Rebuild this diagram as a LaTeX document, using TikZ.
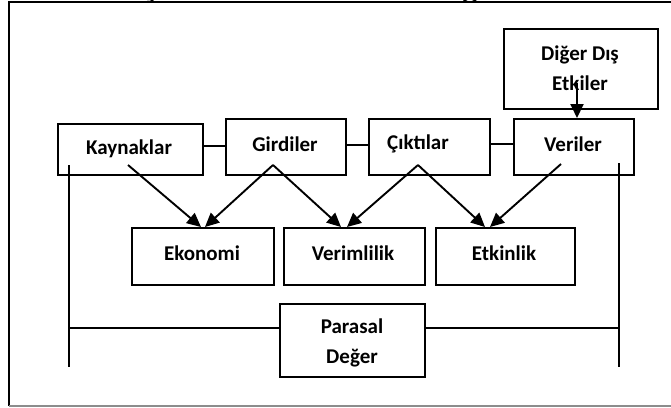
\documentclass[tikz,border=0pt]{standalone}
\usepackage{fontspec}
\setmainfont{Carlito}
\newfontfamily\titlefont{Liberation Serif}
\usetikzlibrary{arrows.meta,calc}
\begin{document}
\begin{tikzpicture}[x=1pt,y=-1pt,
  box/.style={draw, line width=1.6pt, minimum width=#1, inner sep=0pt, anchor=north west},
  lbl/.style={font=\fontsize{21}{30}\selectfont\bfseries, align=center, inner sep=0pt},
  link/.style={line width=1.4pt},
  arr/.style={line width=1.9pt, -{Triangle[length=14pt,width=13pt]}},
  frame/.style={line width=1.5pt}]
\useasboundingbox (0,0) rectangle (671,407);
\clip (0,0) rectangle (671,407);
% title (clipped at top)
\node[anchor=base west, inner sep=0pt, font=\titlefont\fontsize{31}{36}\selectfont\bfseries] (title) at (142,-4) {Şekil 1: Performans Diagramı};
% frame
\draw[frame] (9,406) -- (9,2) -- (672,2);
\draw[line width=1.2pt, black!45] (9,406) -- (672,406);
% boxes
\node[box=154pt, minimum height=80pt] (dig) at (503,28) {};
\node[box=120pt, minimum height=56pt] (ver) at (513,118) {};
\node[box=121pt, minimum height=56pt] (cik) at (368,118) {};
\node[box=120pt, minimum height=56pt] (gir) at (225,118) {};
\node[box=145pt, minimum height=51pt] (kay) at (57,123) {};
\node[box=142pt, minimum height=57pt] (eko) at (131,227) {};
\node[box=141pt, minimum height=57pt] (vrm) at (283,227) {};
\node[box=139pt, minimum height=57pt] (etk) at (435,227) {};
\node[box=145pt, minimum height=73pt] (par) at (279,303) {};
% labels
\node[lbl] (tdig) at (580,68) {Diğer Dış\\Etkiler};
\node[lbl] (tver) at (573,144) {Veriler};
\node[lbl] (tcik) at (418,144) {Çıktılar};
\node[lbl] (tgir) at (285,144) {Girdiler};
\node[lbl] (tkay) at (129,149) {Kaynaklar};
\node[lbl] (teko) at (202,253) {Ekonomi};
\node[lbl] (tvrm) at (353,253) {Verimlilik};
\node[lbl] (tetk) at (504,253) {Etkinlik};
\node[lbl] (tpar) at (352,343) {Parasal\\Değer};
% horizontal links
\draw[link] (kay.east |- 0,146) -- (gir.west |- 0,146);
\draw[link] (gir.east |- 0,145) -- (cik.west |- 0,145);
\draw[link] (cik.east |- 0,144) -- (ver.west |- 0,144);
% verticals and money line
\coordinate (lt) at (69,165);
\coordinate (lb) at (69,367);
\coordinate (lm) at (69,328);
\coordinate (rt) at (619,163);
\coordinate (rb) at (619,367);
\coordinate (rm) at (619,328);
\draw[link] (lt) -- (lb);
\draw[link] (rt) -- (rb);
\draw[link] (lm) -- (par.west |- lm);
\draw[link] (par.east |- rm) -- (rm);
% arrow sources
\coordinate (skay) at (128,165);
\coordinate (sgir) at (273,165);
\coordinate (scik) at (418,165);
\coordinate (sver) at (561,164);
\coordinate (sdig) at (577,83);
% arrows
\draw[arr] (skay) -- (eko.north west -| 201,0);
\draw[arr] (sgir) -- (eko.north west -| 205,0);
\draw[arr] (sgir) -- (vrm.north west -| 341,0);
\draw[arr] (scik) -- (vrm.north west -| 347,0);
\draw[arr] (scik) -- (etk.north west -| 485,0);
\draw[arr] (sver) -- (etk.north west -| 490,0);
\draw[arr] (sdig) -- (ver.north west -| 577,0);
\end{tikzpicture}
\end{document}
